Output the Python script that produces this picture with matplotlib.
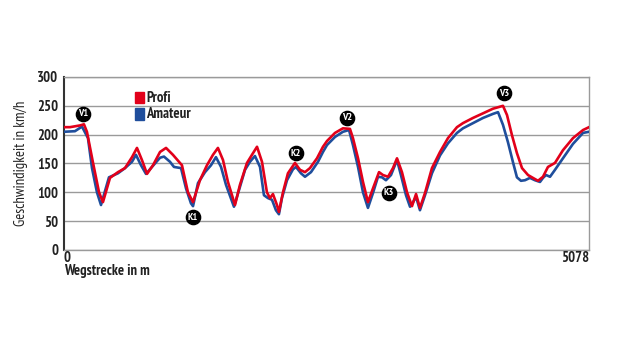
import matplotlib
matplotlib.use("Agg")
import matplotlib.pyplot as plt
from matplotlib.patches import Rectangle

# Weg in m und Geschwindigkeit in km/h
profi_m = [0, 58, 155, 193, 222, 280, 339, 377, 445, 522, 590, 658, 706, 754,
           803, 861, 929, 987, 1054, 1112, 1141, 1199, 1248, 1315, 1383, 1441,
           1489, 1538, 1586, 1654, 1702, 1770, 1818, 1867, 1915, 1963, 1992,
           2021, 2060, 2079, 2118, 2166, 2234, 2283, 2331, 2379, 2447, 2505,
           2544, 2621, 2698, 2766, 2795, 2844, 2892, 2940, 2989, 3047, 3085,
           3134, 3182, 3221, 3269, 3318, 3366, 3405, 3443, 3492, 3559, 3637,
           3714, 3801, 3859, 3956, 4053, 4149, 4246, 4285, 4333, 4381, 4430,
           4488, 4536, 4585, 4633, 4681, 4749, 4826, 4923, 5020, 5078]
profi_kmh = [213, 213, 216, 218, 205, 152, 100, 83, 125, 135, 142, 161, 177, 156,
             132, 147, 170, 177, 165, 153, 147, 100, 83, 121, 147, 165,
             177, 156, 118, 78, 113, 151, 165, 179, 153, 100, 90,
             97, 78, 66, 100, 133, 151, 139, 135, 142, 159, 179,
             189, 203, 211, 210, 194, 159, 118, 83, 107, 135, 130,
             127, 142, 159, 135, 100, 76, 97, 73, 99, 142, 170,
             194, 213, 220, 229, 237, 245, 250, 234, 199, 168, 142,
             130, 125, 120, 127, 144, 151, 173, 194, 208, 213]

amateur_m = [0, 106, 174, 232, 271, 319, 358, 435, 522, 590, 658, 696, 745, 793,
             851, 929, 967, 1025, 1064, 1132, 1180, 1228, 1248, 1296, 1364,
             1422, 1470, 1519, 1567, 1644, 1693, 1751, 1799, 1847, 1896, 1934,
             1973, 2012, 2050, 2079, 2108, 2157, 2215, 2244, 2292, 2331, 2389,
             2457, 2505, 2544, 2621, 2698, 2757, 2795, 2844, 2892, 2940, 2989,
             3037, 3076, 3114, 3163, 3221, 3259, 3308, 3347, 3376, 3405, 3443,
             3492, 3559, 3637, 3714, 3801, 3859, 3956, 4053, 4149, 4198, 4246,
             4294, 4343, 4381, 4420, 4459, 4507, 4555, 4604, 4633, 4662, 4701,
             4749, 4826, 4923, 5020, 5078]
amateur_kmh = [205, 206, 214, 194, 142, 100, 78, 126, 133, 142, 153, 165, 147, 132,
               144, 160, 162, 153, 144, 142, 107, 81, 76, 116, 135,
               147, 161, 144, 113, 75, 104, 139, 153, 163, 144, 95,
               90, 87, 69, 62, 90, 121, 140, 144, 133, 127, 135,
               153, 170, 182, 196, 205, 208, 182, 144, 100, 73, 99,
               127, 126, 121, 130, 156, 130, 95, 75, 83, 92, 69,
               95, 133, 164, 185, 203, 211, 220, 229, 236, 239, 217,
               187, 152, 126, 120, 121, 125, 121, 118, 125, 130, 127,
               139, 159, 184, 203, 205]

marker_labels = ["V1", "K1", "K2", "V2", "K3", "V3"]
marker_m = [184, 1248, 2244, 2737, 3143, 4256]
marker_kmh = [236, 57, 168, 229, 99, 272]

y_ticks = [0, 50, 100, 150, 200, 250, 300]
x_max = 5078

RED = "#e2001a"
BLUE = "#1f4e9c"
TXT = "#222222"
FONT = ["PT Sans Narrow", "Liberation Sans", "DejaVu Sans"]

plt.rcParams["font.family"] = FONT
plt.rcParams["font.weight"] = "bold"

fig = plt.figure(figsize=(6.2, 3.49), dpi=100)
ax = fig.add_axes([0.1032, 0.2837, 0.8468, 0.4957])

ax.plot(amateur_m, amateur_kmh, color=BLUE, lw=1.9, zorder=3)
ax.plot(profi_m, profi_kmh, color=RED, lw=1.9, zorder=4)

ax.set_xlim(0, x_max)
ax.set_ylim(0, 300)
ax.set_yticks(y_ticks)
ax.set_xticks([])
ax.yaxis.grid(True, color="#9a9a9a", lw=1)
ax.set_axisbelow(True)
ax.tick_params(axis="y", length=0, pad=4, labelsize=10.5, labelcolor=TXT)
for s in ["top", "right", "bottom"]:
    ax.spines[s].set_color("#9a9a9a")
    ax.spines[s].set_linewidth(1)
ax.spines["left"].set_color("#333333")
ax.spines["left"].set_linewidth(1.5)

ax.set_ylabel("Geschwindigkeit in km/h", fontsize=10.5, color=TXT, labelpad=7)
ax.text(0, -2, "0", ha="left", va="top", fontsize=10.5, color=TXT)
ax.text(x_max, -2, str(x_max), ha="right", va="top", fontsize=10.5, color=TXT)
ax.text(0, -25, "Wegstrecke in m", ha="left", va="top", fontsize=10.5, color=TXT)

# Markierungen (schwarze Kreise mit Beschriftung)
ax.scatter(marker_m, marker_kmh, s=105, color="black", zorder=6, clip_on=False)
for lab, mx, my in zip(marker_labels, marker_m, marker_kmh):
    ax.text(mx, my, lab, ha="center", va="center", fontsize=7.5, color="white",
            zorder=7)

# Legende
for i, (lab, col) in enumerate([("Profi", RED), ("Amateur", BLUE)]):
    yy = 0.88 - i * 0.095
    ax.add_patch(Rectangle((0.135, yy - 0.033), 0.017, 0.066,
                           transform=ax.transAxes, color=col, zorder=5))
    ax.text(0.157, yy, lab, transform=ax.transAxes, ha="left", va="center",
            fontsize=10.5, color=TXT)

fig.savefig("out.png", dpi=100)
